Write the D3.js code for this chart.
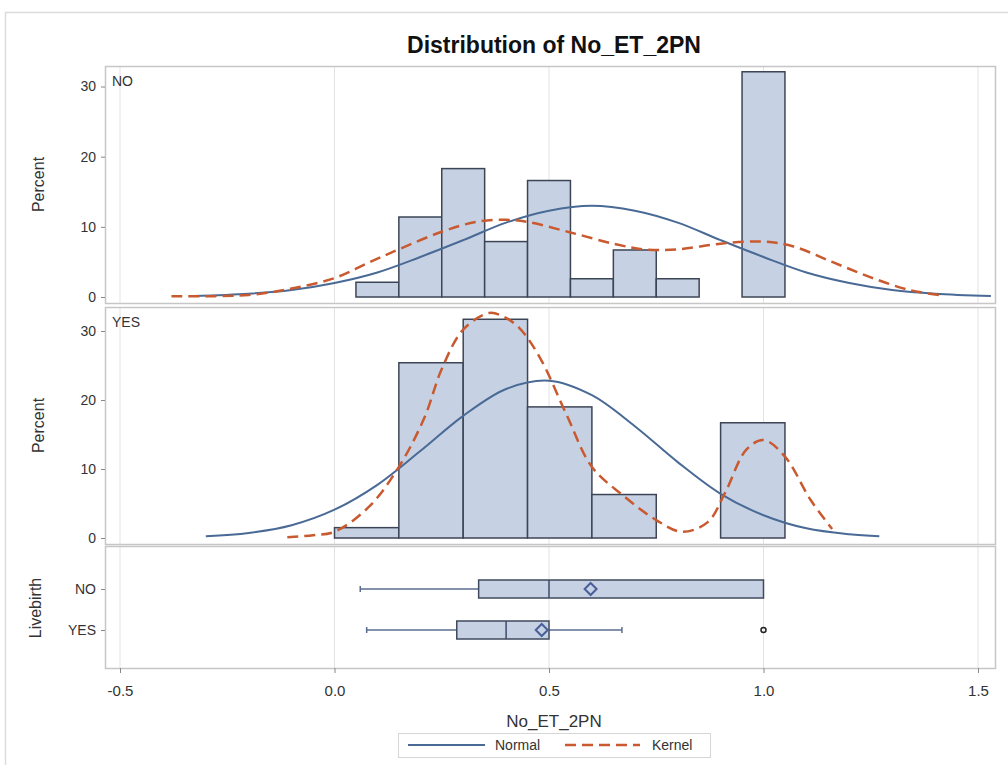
<!DOCTYPE html>
<html><head><meta charset="utf-8">
<script src="https://cdn.jsdelivr.net/npm/d3@7"></script>
<style>body{margin:0;background:#fff;} text{font-family:"Liberation Sans",Arial,sans-serif;}</style>
</head><body>
<svg id="chart" width="1008" height="765"></svg>
<script>
// ---------- data ----------
const title = "Distribution of No_ET_2PN";
const xTicks = [-0.5, 0.0, 0.5, 1.0, 1.5];
const xTickLabels = ["-0.5", "0.0", "0.5", "1.0", "1.5"];
const yTicks = [0, 10, 20, 30];
const groups = ["NO", "YES"];

// Histogram: NO (bin width 0.1)
const noBinStart = [0.05,0.15,0.25,0.35,0.45,0.55,0.65,0.75,0.85,0.95];
const noBinEnd   = [0.15,0.25,0.35,0.45,0.55,0.65,0.75,0.85,0.95,1.05];
const noPercent  = [2.1,11.4,18.3,7.9,16.6,2.6,6.7,2.6,0,32.1];
// Histogram: YES (bin width 0.15)
const yesBinStart = [0.0,0.15,0.30,0.45,0.60,0.75,0.90];
const yesBinEnd   = [0.15,0.30,0.45,0.60,0.75,0.90,1.05];
const yesPercent  = [1.5,25.4,31.7,19.0,6.3,0,16.7];

// Normal curve (x, percent)
const noNormalX = [-0.33,-0.2,-0.1,0.0,0.1,0.2,0.3,0.4,0.5,0.6,0.7,0.8,0.9,1.0,1.1,1.2,1.3,1.4,1.53];
const noNormalY = [0.14,0.47,1.0,2.0,3.5,5.7,8.1,10.6,12.3,13.0,12.3,10.6,8.1,5.7,3.5,2.0,1.0,0.47,0.14];
const yesNormalX = [-0.3,-0.2,-0.1,0.0,0.1,0.2,0.3,0.4,0.5,0.6,0.7,0.8,0.9,1.0,1.1,1.2,1.27];
const yesNormalY = [0.25,0.73,1.85,4.1,7.7,12.6,17.7,21.6,22.8,20.7,16.2,11.0,6.4,3.3,1.4,0.54,0.25];

// Kernel curve (x, percent)
const noKernelX = [-0.38,-0.2,-0.1,0.0,0.08,0.15,0.25,0.33,0.40,0.45,0.55,0.65,0.72,0.80,0.90,1.00,1.07,1.16,1.25,1.34,1.42];
const noKernelY = [0.1,0.3,1.2,2.7,4.9,6.8,9.3,10.7,11.0,10.7,9.2,7.6,6.8,6.8,7.6,7.9,7.2,5.0,2.8,1.0,0.2];
const yesKernelX = [-0.11,-0.05,0.0,0.08,0.15,0.21,0.25,0.30,0.36,0.39,0.43,0.48,0.54,0.60,0.67,0.75,0.81,0.87,0.91,0.96,1.00,1.05,1.11,1.16];
const yesKernelY = [0.1,0.4,0.9,4.5,10.3,17.5,24.5,30.2,32.6,32.2,30.5,26.0,18.0,10.3,6.3,2.6,0.9,2.3,6.5,12.8,14.2,11.8,5.5,1.3];

// Box plot stats per group
const boxMin    = [0.06, 0.075];
const boxQ1     = [0.336, 0.285];
const boxMedian = [0.50, 0.40];
const boxMean   = [0.597, 0.483];
const boxQ3     = [1.0, 0.50];
const boxMax    = [1.0, 0.67];
const boxOutliers = [[], [1.0]];

// ---------- drawing ----------
const svg = d3.select("#chart");
const gridColor = "#e3e3e3", frameColor = "#c6c6c6", textColor = "#333";
const barFill = "#c6d2e3", barStroke = "#3c4556";
const normalColor = "#4a6a96", kernelColor = "#c95a30";
const FONT = "Liberation Sans, Arial, sans-serif";

svg.append("rect").attr("x",5.5).attr("y",12.5).attr("width",1010).attr("height",770)
  .attr("fill","none").attr("stroke","#dcdcdc").attr("stroke-width",1.5);

svg.append("text").attr("x",554).attr("y",53).attr("text-anchor","middle")
  .attr("font-size",23).attr("font-weight","bold").attr("fill","#111").text(title);

const L = 105, R = 995;
const x = d3.scaleLinear().domain([-0.5,1.5]).range([120,978]);

const panels = [
  {label:"NO",  top:66,  bottom:303, y:d3.scaleLinear().domain([0,30]).range([297,86.5]),
   bs:noBinStart, be:noBinEnd, pc:noPercent, nx:noNormalX, ny:noNormalY, kx:noKernelX, ky:noKernelY},
  {label:"YES", top:307, bottom:544, y:d3.scaleLinear().domain([0,30]).range([538,331]),
   bs:yesBinStart, be:yesBinEnd, pc:yesPercent, nx:yesNormalX, ny:yesNormalY, kx:yesKernelX, ky:yesKernelY}
];

function grid(top,bottom){
  svg.append("g").selectAll("line").data(xTicks).join("line")
    .attr("x1",d=>x(d)).attr("x2",d=>x(d)).attr("y1",top).attr("y2",bottom)
    .attr("stroke",gridColor).attr("stroke-width",1);
}

panels.forEach(p=>{
  grid(p.top,p.bottom);
  const g = svg.append("g");
  const bars = p.pc.map((v,i)=>({s:p.bs[i], e:p.be[i], v})).filter(d=>d.v>0);
  g.selectAll("rect").data(bars).join("rect")
    .attr("x",d=>x(d.s)).attr("width",d=>x(d.e)-x(d.s))
    .attr("y",d=>p.y(d.v)).attr("height",d=>p.y(0)-p.y(d.v))
    .attr("fill",barFill).attr("stroke",barStroke).attr("stroke-width",1.5);
  const line = d3.line().x(d=>x(d[0])).y(d=>p.y(d[1])).curve(d3.curveCatmullRom.alpha(0.5));
  svg.append("path").attr("d",line(p.nx.map((v,i)=>[v,p.ny[i]])))
    .attr("fill","none").attr("stroke",normalColor).attr("stroke-width",2);
  svg.append("path").attr("d",line(p.kx.map((v,i)=>[v,p.ky[i]])))
    .attr("fill","none").attr("stroke",kernelColor).attr("stroke-width",2.5)
    .attr("stroke-dasharray","11,6");
  svg.append("rect").attr("x",L+0.5).attr("y",p.top+0.5).attr("width",R-L).attr("height",p.bottom-p.top)
    .attr("fill","none").attr("stroke",frameColor).attr("stroke-width",1.5);
  const ax = svg.append("g").attr("transform",`translate(${L},0)`)
    .call(d3.axisLeft(p.y).tickValues(yTicks).tickSize(4).tickPadding(5).tickFormat(d3.format("d")));
  ax.select(".domain").remove();
  ax.selectAll("line").attr("stroke","#888");
  ax.selectAll("text").attr("font-size",14).attr("fill",textColor).attr("font-family",FONT);
  svg.append("text").attr("x",112).attr("y",p.top+20).attr("font-size",14).attr("fill",textColor).text(p.label);
  svg.append("text").attr("transform",`translate(44,${(p.top+p.bottom)/2}) rotate(-90)`)
    .attr("text-anchor","middle").attr("font-size",16).attr("fill",textColor).text("Percent");
});

// Box plot panel
const bTop = 546, bBot = 668;
grid(bTop,bBot);
const yb = d3.scalePoint().domain(groups).range([589,630]);
const bh = 18;
groups.forEach((gname,i)=>{
  const cy = yb(gname);
  const g = svg.append("g");
  g.append("line").attr("x1",x(boxMin[i])).attr("x2",x(boxQ1[i])).attr("y1",cy).attr("y2",cy)
    .attr("stroke","#5a6d8e").attr("stroke-width",1.5);
  g.append("line").attr("x1",x(boxQ3[i])).attr("x2",x(boxMax[i])).attr("y1",cy).attr("y2",cy)
    .attr("stroke","#5a6d8e").attr("stroke-width",1.5);
  [boxMin[i], boxMax[i]].forEach(v=>{
    if (v !== boxQ3[i]) g.append("line").attr("x1",x(v)).attr("x2",x(v)).attr("y1",cy-3).attr("y2",cy+3)
      .attr("stroke","#5a6d8e").attr("stroke-width",1.5);
  });
  g.append("rect").attr("x",x(boxQ1[i])).attr("y",cy-bh/2).attr("width",x(boxQ3[i])-x(boxQ1[i])).attr("height",bh)
    .attr("fill",barFill).attr("stroke","#3f4a5e").attr("stroke-width",1.5);
  g.append("line").attr("x1",x(boxMedian[i])).attr("x2",x(boxMedian[i])).attr("y1",cy-bh/2).attr("y2",cy+bh/2)
    .attr("stroke","#3f4a6a").attr("stroke-width",1.5);
  const mx = x(boxMean[i]);
  g.append("path").attr("d",`M${mx},${cy-6}L${mx+6},${cy}L${mx},${cy+6}L${mx-6},${cy}Z`)
    .attr("fill","#c6d2e3").attr("stroke","#4a5e9a").attr("stroke-width",2);
  boxOutliers[i].forEach(v=>{
    g.append("circle").attr("cx",x(v)).attr("cy",cy).attr("r",2.5)
      .attr("fill","none").attr("stroke","#222").attr("stroke-width",1.5);
  });
});
svg.append("rect").attr("x",L+0.5).attr("y",bTop+0.5).attr("width",R-L).attr("height",bBot-bTop)
  .attr("fill","none").attr("stroke",frameColor).attr("stroke-width",1.5);
const ayb = svg.append("g").attr("transform",`translate(${L},0)`).call(d3.axisLeft(yb).tickSize(4).tickPadding(5));
ayb.select(".domain").remove();
ayb.selectAll("line").attr("stroke","#888");
ayb.selectAll("text").attr("font-size",14).attr("fill",textColor).attr("font-family",FONT);
svg.append("text").attr("transform",`translate(41,608) rotate(-90)`)
  .attr("text-anchor","middle").attr("font-size",16).attr("fill",textColor).text("Livebirth");

// x axis
const axx = svg.append("g").attr("transform",`translate(0,${bBot})`)
  .call(d3.axisBottom(x).tickValues(xTicks).tickSize(5).tickPadding(12).tickFormat((d,i)=>xTickLabels[i]));
axx.select(".domain").remove();
axx.selectAll("line").attr("stroke","#888");
axx.selectAll("text").attr("font-size",15).attr("fill",textColor).attr("font-family",FONT);
svg.append("text").attr("x",554).attr("y",727).attr("text-anchor","middle").attr("font-size",17)
  .attr("fill",textColor).text("No_ET_2PN");

// legend
const lg = svg.append("g");
lg.append("rect").attr("x",398.5).attr("y",733.5).attr("width",312).attr("height",24)
  .attr("fill","#fff").attr("stroke","#d6d6d6");
lg.append("line").attr("x1",408).attr("x2",485).attr("y1",745).attr("y2",745)
  .attr("stroke",normalColor).attr("stroke-width",2);
lg.append("text").attr("x",495).attr("y",750).attr("font-size",14).attr("fill",textColor).text("Normal");
lg.append("line").attr("x1",565).attr("x2",640).attr("y1",745).attr("y2",745)
  .attr("stroke",kernelColor).attr("stroke-width",2.5).attr("stroke-dasharray","11,6");
lg.append("text").attr("x",652).attr("y",750).attr("font-size",14).attr("fill",textColor).text("Kernel");
</script>
</body></html>
